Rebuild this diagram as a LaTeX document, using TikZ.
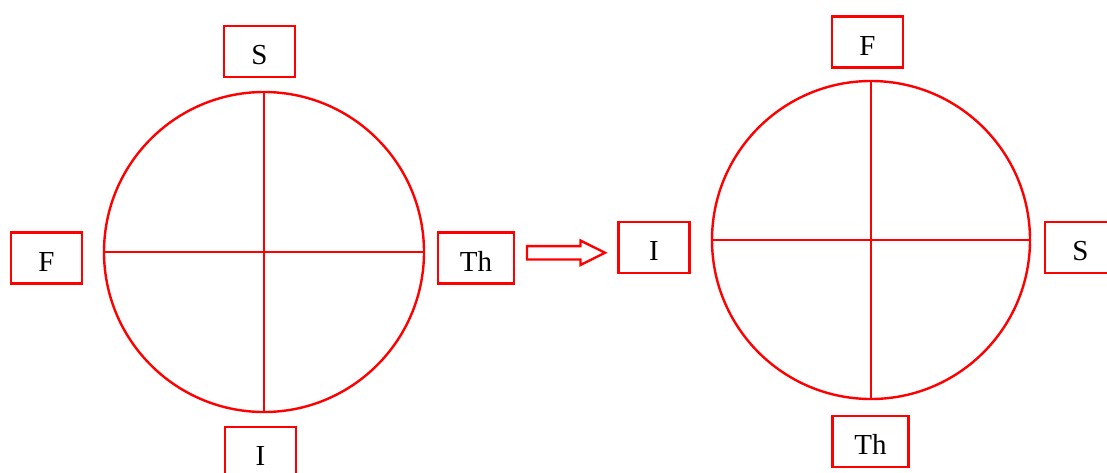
\documentclass[tikz,border=0pt]{standalone}
\usepackage{fontspec}
\setmainfont{Liberation Serif}
\usetikzlibrary{calc, positioning}
\usetikzlibrary{shapes.arrows}

\begin{document}
\begin{tikzpicture}[x=1pt,y=-1pt,font=\fontsize{29}{34}\selectfont,
    wheel/.style={draw=red,line width=2.4pt,circle,minimum size=320pt,inner sep=0pt},
    cross/.style={draw=red,line width=2.4pt},
    tagbox/.style={draw=red,line width=2.8pt,rectangle,inner sep=0pt,
        minimum width=71pt,minimum height=51pt,text height=26pt,text depth=0pt},
    widebox/.style={tagbox,minimum width=76pt},
    turnarrow/.style={draw=red,line width=2.4pt,fill=white,shape=single arrow,
        inner xsep=0pt,inner ysep=5.5pt,single arrow head extend=5.5pt,
        single arrow tip angle=53,minimum height=78pt}]
\useasboundingbox (0,0) rectangle (1107,472);
\coordinate (LeftCentre) at (264,252);
\coordinate (RightCentre) at (871,240);

% left wheel
\node[wheel] (LeftWheel) at (LeftCentre) {};
\draw[cross] (LeftWheel.north) -- (LeftWheel.south);
\draw[cross] (LeftWheel.west) -- (LeftWheel.east);
\node[tagbox] (SLeft) at (259.5,51.5) {S};
\node[tagbox] (FLeft) at (46.5,258) {F};
\node[widebox] (ThLeft) at (476,258) {Th};
\node[tagbox] (ILeft) at (260.5,452.5) {I};

% right wheel
\node[wheel,minimum size=318pt] (RightWheel) at (RightCentre) {};
\draw[cross] (RightWheel.north) -- (RightWheel.south);
\draw[cross] (RightWheel.west) -- (RightWheel.east);
\node[tagbox] (FRight) at (867.5,42) {F};
\node[tagbox] (IRight) at (654,247.5) {I};
\node[tagbox] (SRight) at (1080.5,247.5) {S};
\node[widebox] (ThRight) at (870.5,441.5) {Th};

\node[turnarrow,xshift=-7pt] (Turn) at ($(ThLeft.east)!0.5!(IRight.west)$) {};
\end{tikzpicture}
\end{document}
